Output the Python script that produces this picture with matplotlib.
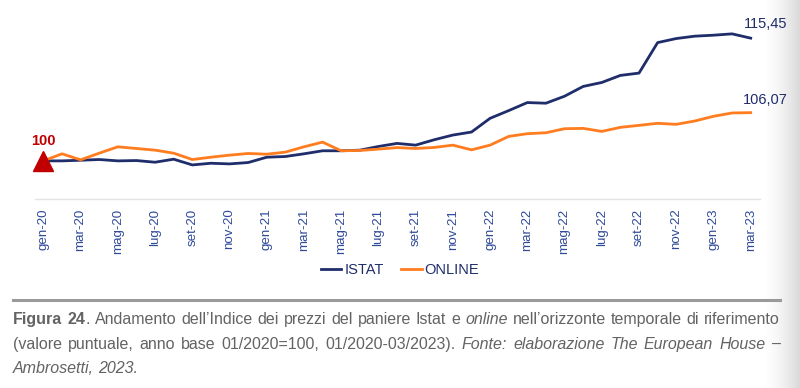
import numpy as np
import matplotlib
matplotlib.use("Agg")
import matplotlib.pyplot as plt
from matplotlib import font_manager

# ---------------- data ----------------
months = ["gen", "feb", "mar", "apr", "mag", "giu", "lug", "ago", "set", "ott", "nov", "dic"]
labels = [f"{months[i % 12]}-{20 + i // 12}" for i in range(39)]

istat = [100.00, 100.00, 100.08, 100.17, 100.00, 100.04, 99.83, 100.21, 99.49, 99.70,
         99.62, 99.79, 100.46, 100.55, 100.89, 101.27, 101.27, 101.35, 101.81, 102.20,
         101.98, 102.66, 103.25, 103.63, 105.36, 106.33, 107.34, 107.26, 108.14, 109.37,
         109.87, 110.76, 111.05, 114.89, 115.40, 115.70, 115.82, 115.99, 115.45]
online = [100.00, 100.89, 100.13, 100.97, 101.77, 101.56, 101.35, 100.97, 100.17, 100.46,
          100.72, 100.93, 100.84, 101.10, 101.77, 102.36, 101.27, 101.31, 101.48, 101.67,
          101.56, 101.69, 101.98, 101.39, 101.98, 103.08, 103.42, 103.54, 104.05, 104.09,
          103.71, 104.22, 104.47, 104.73, 104.60, 105.02, 105.61, 106.03, 106.07]
end_labels = ["115,45", "106,07"]
series_names = ["ISTAT", "ONLINE"]

# ---------------- fonts ----------------
avail = {f.name for f in font_manager.fontManager.ttflist}
narrow = "Liberation Sans Narrow" if "Liberation Sans Narrow" in avail else "Liberation Sans"
plt.rcParams["font.family"] = [narrow, "DejaVu Sans"]

W, H = 800, 388
fig = plt.figure(figsize=(W / 100, H / 100), dpi=100)
fig.patch.set_facecolor("white")

# right-edge page shading
gax = fig.add_axes([762 / W, 0, 38 / W, 1], zorder=-5)
g = np.linspace(0, 1, 200) ** 1.6
grad = 1 - 0.15 * g
gax.imshow(np.tile(grad, (10, 1)), aspect="auto", cmap="gray", vmin=0, vmax=1,
           extent=[0, 1, 0, 1])
gax.axis("off")

NAVY = "#1f2d6b"
ORANGE = "#ff7c1f"
TICKC = "#2f4a9a"

# main axes (pixel based)
left, right_px = 35, 760
top_px, bot_px = 2, 199
ax = fig.add_axes([left / W, 1 - bot_px / H, (right_px - left) / W, (bot_px - top_px) / H])
ax.set_facecolor("none")
x = np.arange(len(labels))
ax.plot(x, istat, color=NAVY, lw=2.0, label=series_names[0], solid_joinstyle="round")
ax.plot(x, online, color=ORANGE, lw=2.0, label=series_names[1], solid_joinstyle="round")
ax.set_xlim(-0.45, 38.5)
ax.set_ylim(95.2, 120)

for s in ["top", "right", "left"]:
    ax.spines[s].set_visible(False)
ax.spines["bottom"].set_color("#e3e3e3")
ax.spines["bottom"].set_linewidth(1.0)
ax.set_yticks([])
ax.set_xticks(x[::2])
ax.set_xticklabels(labels[::2], rotation=90, fontsize=9.6, color=TICKC,
                   family=["Liberation Sans", "DejaVu Sans"])
ax.tick_params(axis="x", length=0, pad=7)

# start marker
ax.plot([0], [istat[0]], marker="^", ms=14, color="#c00000", clip_on=False, zorder=5)
ax.text(0, 101.6, "100", color="#c00000", fontsize=10.5, fontweight="bold",
        ha="center", va="bottom", family=["Liberation Sans", "DejaVu Sans"])

# end labels
ax.text(38.8, istat[-1] + 0.9, end_labels[0], color=NAVY, fontsize=10.5,
        ha="center", va="bottom", clip_on=False, family=["Liberation Sans", "DejaVu Sans"])
ax.text(38.8, online[-1] + 0.7, end_labels[1], color=NAVY, fontsize=10.5,
        ha="center", va="bottom", clip_on=False, family=["Liberation Sans", "DejaVu Sans"])

leg = ax.legend(loc="center", bbox_to_anchor=(400 / W, 1 - 270 / H),
                bbox_transform=fig.transFigure, ncol=2, frameon=False,
                handlelength=1.4, handletextpad=0.2, columnspacing=1.2,
                fontsize=10.5)
for t in leg.get_texts():
    t.set_color(NAVY)

# separator line
fig.add_artist(plt.Line2D([13 / W, 780 / W], [1 - 300 / H, 1 - 300 / H],
                          color="#9a9a9a", lw=2.2, transform=fig.transFigure))

# ---------------- caption (justified) ----------------
CAP = "#636363"
FS = 11.5
lines = [
    [[("Figura", "b")], [("24", "b"), (".", "n")], [("Andamento", "n")], [("dell’Indice", "n")],
     [("dei", "n")], [("prezzi", "n")], [("del", "n")], [("paniere", "n")], [("Istat", "n")],
     [("e", "n")], [("online", "i")], [("nell’orizzonte", "n")], [("temporale", "n")],
     [("di", "n")], [("riferimento", "n")]],
    [[("(valore", "n")], [("puntuale,", "n")], [("anno", "n")], [("base", "n")],
     [("01/2020=100,", "n")], [("01/2020-03/2023).", "n")], [("Fonte:", "i")],
     [("elaborazione", "i")], [("The", "i")], [("European", "i")], [("House", "i")],
     [("–", "i")]],
    [[("Ambrosetti,", "i")], [("2023.", "i")]],
]
baselines = [324, 349, 373]
x0, x1 = 13, 780
renderer = fig.canvas.get_renderer()


def mk(txt, st, xp, yp):
    kw = dict(fontsize=FS, color=CAP, va="baseline", ha="left")
    if st == "b":
        kw["fontweight"] = "bold"
    if st == "i":
        kw["fontstyle"] = "italic"
    return fig.text(xp / W, 1 - yp / H, txt, **kw)


space_w = None
for li, (words, by) in enumerate(zip(lines, baselines)):
    widths = []
    for w in words:
        tot = 0
        for seg, st in w:
            t = mk(seg, st, 0, by)
            tot += t.get_window_extent(renderer).width
            t.remove()
        widths.append(tot)
    if space_w is None:
        t = mk("a a", "n", 0, by)
        wa = t.get_window_extent(renderer).width
        t.remove()
        t = mk("aa", "n", 0, by)
        space_w = wa - t.get_window_extent(renderer).width
        t.remove()
    if li < 2:
        gap = (x1 - x0 - sum(widths)) / (len(words) - 1)
    else:
        gap = space_w
    xp = x0
    for w, wd in zip(words, widths):
        cx = xp
        for seg, st in w:
            t = mk(seg, st, cx, by)
            cx += t.get_window_extent(renderer).width
        xp += wd + gap

fig.savefig("out.png", dpi=100, facecolor="white")
